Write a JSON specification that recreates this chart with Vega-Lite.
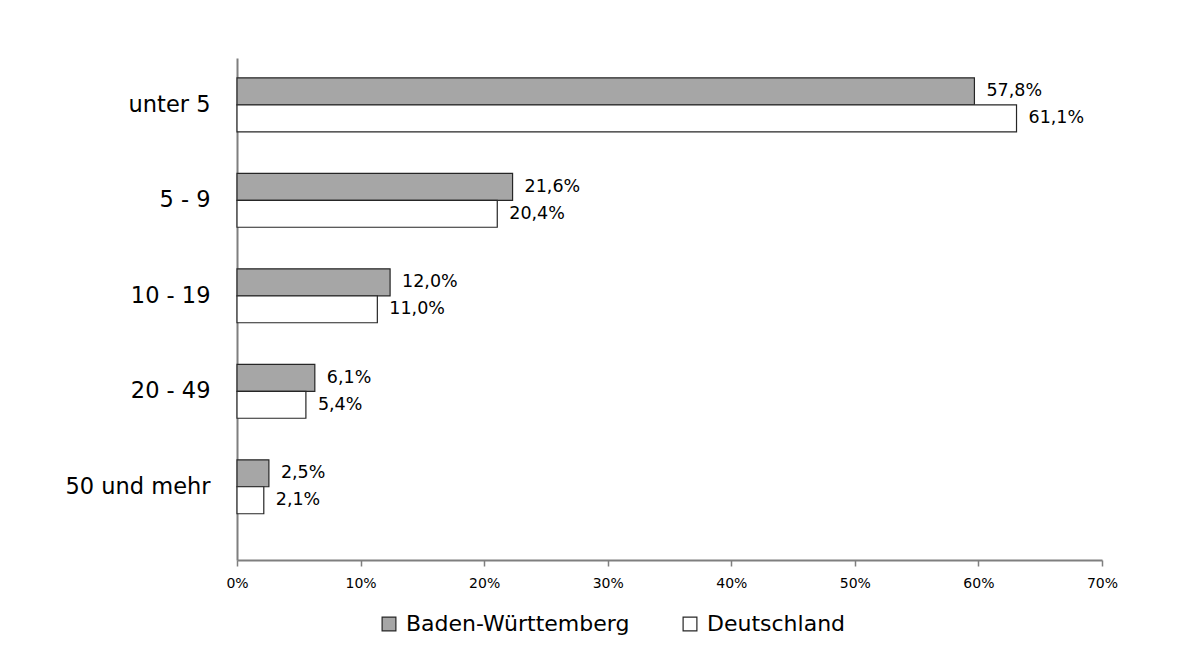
{
  "$schema": "https://vega.github.io/schema/vega-lite/v6.json",
  "width": 865,
  "height": 502,
  "autosize": {"type": "none"},
  "padding": {"left": 237, "top": 58, "right": 101, "bottom": 106},
  "background": "white",
  "config": {
    "locale": {"number": {"decimal": ",", "thousands": ".", "grouping": [3], "currency": ["", " €"]}},
    "font": "DejaVu Sans",
    "view": {"stroke": null},
    "axis": {"domainColor": "#7f7f7f", "tickColor": "#7f7f7f", "labelColor": "#000000", "grid": false}
  },
  "data": {
    "values": [
      {"cat": "unter 5", "region": "Baden-Württemberg", "value": 0.578},
      {"cat": "unter 5", "region": "Deutschland", "value": 0.611},
      {"cat": "5 - 9", "region": "Baden-Württemberg", "value": 0.216},
      {"cat": "5 - 9", "region": "Deutschland", "value": 0.204},
      {"cat": "10 - 19", "region": "Baden-Württemberg", "value": 0.120},
      {"cat": "10 - 19", "region": "Deutschland", "value": 0.110},
      {"cat": "20 - 49", "region": "Baden-Württemberg", "value": 0.061},
      {"cat": "20 - 49", "region": "Deutschland", "value": 0.054},
      {"cat": "50 und mehr", "region": "Baden-Württemberg", "value": 0.025},
      {"cat": "50 und mehr", "region": "Deutschland", "value": 0.021}
    ]
  },
  "encoding": {
    "y": {
      "field": "cat", "type": "nominal",
      "sort": ["unter 5", "5 - 9", "10 - 19", "20 - 49", "50 und mehr"],
      "scale": {"paddingInner": 0.435, "paddingOuter": 0.346, "align": 0.3},
      "axis": {"title": null, "ticks": false, "labelPadding": 27, "labelFontSize": 22.5, "labelLimit": 300, "domainWidth": 2}
    },
    "yOffset": {
      "field": "region", "type": "nominal",
      "sort": ["Baden-Württemberg", "Deutschland"],
      "scale": {"paddingInner": 0, "paddingOuter": 0}
    }
  },
  "layer": [
    {
      "mark": {"type": "bar", "stroke": "#262626", "strokeWidth": 1.2},
      "encoding": {
        "x": {"field": "value", "type": "quantitative", "scale": {"domain": [0, 0.678], "nice": false}, "axis": null},
        "color": {
          "field": "region", "type": "nominal",
          "sort": ["Baden-Württemberg", "Deutschland"],
          "scale": {"domain": ["Baden-Württemberg", "Deutschland"], "range": ["#a6a6a6", "#ffffff"]},
          "legend": {
            "title": null, "orient": "none", "direction": "horizontal",
            "legendX": 141, "legendY": 555,
            "symbolType": "square", "symbolSize": 190, "symbolStrokeColor": "#262626", "symbolStrokeWidth": 1.2,
            "labelFontSize": 22, "labelLimit": 400, "labelOffset": 6, "columnPadding": 49
          }
        }
      }
    },
    {
      "mark": {"type": "text", "align": "left", "baseline": "middle", "dx": 12, "fontSize": 17.5, "color": "#000000"},
      "encoding": {
        "x": {"field": "value", "type": "quantitative", "scale": {"domain": [0, 0.678], "nice": false}, "axis": null},
        "text": {"field": "value", "type": "quantitative", "format": ".1%"}
      }
    },
    {
      "mark": {"type": "rule", "opacity": 0},
      "encoding": {
        "x": {
          "field": "value", "type": "quantitative",
          "scale": {"domain": [0, 0.7], "nice": false},
          "axis": {"title": null, "orient": "bottom", "format": ".0%", "values": [0, 0.1, 0.2, 0.3, 0.4, 0.5, 0.6, 0.7], "labelFlush": false, "labelOverlap": false, "tickSize": 6, "tickWidth": 1.5, "domainWidth": 2, "labelFontSize": 14, "labelPadding": 10}
        }
      }
    }
  ],
  "resolve": {"scale": {"x": "independent"}}
}
